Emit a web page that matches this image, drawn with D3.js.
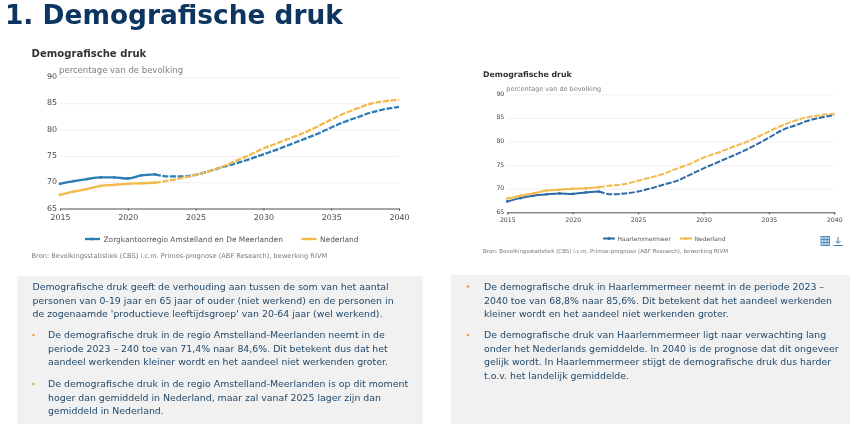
<!DOCTYPE html>
<html><head><meta charset="utf-8">
<script src="https://cdn.jsdelivr.net/npm/d3@7"></script>
<style>
html,body{margin:0;padding:0;background:#fff;overflow:hidden}
svg{display:block;font-family:"DejaVu Sans",sans-serif}
#blurred{filter:blur(0.35px)}
</style></head><body><svg id="c" width="850" height="424"></svg>
<script>
const years = d3.range(2015, 2041);
const yTicks = [65,70,75,80,85,90];
const xTicks = [2015,2020,2025,2030,2035,2040];
const lastObserved = 2022;
const regioLeft = [69.7,70.2,70.6,70.9,70.9,70.7,71.3,71.5,71.1,71.1,71.4,72.1,72.9,73.6,74.4,75.3,76.2,77.2,78.2,79.2,80.4,81.5,82.4,83.3,83.9,84.3];
const nederlandLeft = [67.6,68.2,68.7,69.3,69.5,69.7,69.8,69.9,70.3,70.8,71.4,72.1,73.0,74.1,75.2,76.4,77.4,78.4,79.4,80.6,81.9,83.1,84.1,85.0,85.4,85.7];
const regioRight = [67.3,68.0,68.5,68.8,69.0,68.9,69.2,69.4,68.8,69.0,69.4,70.1,70.9,71.7,73.0,74.3,75.5,76.7,77.9,79.3,80.8,82.4,83.4,84.4,85.1,85.6];
const nederlandRight = [67.9,68.5,69.0,69.6,69.8,70.0,70.1,70.3,70.7,71.0,71.7,72.4,73.2,74.3,75.3,76.6,77.5,78.6,79.6,80.8,82.1,83.4,84.4,85.2,85.6,85.9];
const pageTitle = "1. Demografische druk";
const chartTitle = "Demografische druk";
const subTitle = "percentage van de bevolking";
const sourceText = "Bron: Bevolkingsstatistiek (CBS) i.c.m. Primos-prognose (ABF Research), bewerking RIVM";
const leftIntro = ["Demografische druk geeft de verhouding aan tussen de som van het aantal","personen van 0-19 jaar en 65 jaar of ouder (niet werkend) en de personen in","de zogenaamde 'productieve leeftijdsgroep' van 20-64 jaar (wel werkend)."];
const leftBullets = [["De demografische druk in de regio Amstelland-Meerlanden neemt in de","periode 2023 – 240 toe van 71,4% naar 84,6%. Dit betekent dus dat het","aandeel werkenden kleiner wordt en het aandeel niet werkenden groter."],["De demografische druk in de regio Amstelland-Meerlanden is op dit moment","hoger dan gemiddeld in Nederland, maar zal vanaf 2025 lager zijn dan","gemiddeld in Nederland."]];
const rightBullets = [["De demografische druk in Haarlemmermeer neemt in de periode 2023 –","2040 toe van 68,8% naar 85,6%. Dit betekent dat het aandeel werkenden","kleiner wordt en het aandeel niet werkenden groter."],["De demografische druk van Haarlemmermeer ligt naar verwachting lang","onder het Nederlands gemiddelde. In 2040 is de prognose dat dit ongeveer","gelijk wordt. In Haarlemmermeer stijgt de demografische druk dus harder","t.o.v. het landelijk gemiddelde."]];

const BLUE="#2a7db5", BLUE2="#2f6aa8", ORANGE="#f3b94a", TEXT="#234a6b";
const svg=d3.select("#c").append("g").attr("id","blurred");

svg.append("text").text(pageTitle).attr("x",5).attr("y",23.5).attr("font-size",26.4).attr("font-weight",700).attr("fill","#0c3560");
svg.append("rect").attr("x",17).attr("y",276).attr("width",406).attr("height",148).attr("fill","#f1f1f1");
svg.append("rect").attr("x",451).attr("y",275).attr("width",399).attr("height",149).attr("fill","#f1f1f1");

function chart(o){
  const x=d3.scaleLinear().domain([2015,2040]).range(o.xr);
  const y=d3.scaleLinear().domain([65,90]).range(o.yr);
  const g=svg.append("g");
  g.append("text").text(chartTitle).attr("x",o.tx).attr("y",o.ty).attr("font-size",o.tfs).attr("font-weight",700).attr("fill","#333");
  g.append("text").text(subTitle).attr("x",o.xr[0]-1).attr("y",o.sy).attr("font-size",o.sfs).attr("fill","#808080");
  const gy=g.append("g").attr("transform",`translate(${o.xr[0]},0)`).call(d3.axisLeft(y).tickValues(yTicks).tickSize(-(o.xr[1]-o.xr[0])).tickPadding(3));
  gy.select(".domain").remove();
  gy.selectAll("line").attr("stroke","#f0f0f0");
  gy.selectAll("text").attr("font-size",o.afs).attr("fill","#444").attr("font-family","DejaVu Sans").attr("dy",o.ydy);
  const gx=g.append("g").attr("transform",`translate(0,${o.yr[0]})`).call(d3.axisBottom(x).tickValues(xTicks).tickSize(2).tickPadding(o.xpad).tickFormat(d3.format("d")));
  gx.select(".domain").attr("stroke","#555").attr("stroke-width",1);
  gx.selectAll("line").attr("stroke","#555");
  gx.selectAll("text").attr("font-size",o.afs).attr("fill","#444").attr("font-family","DejaVu Sans");
  const line=d3.line().x(d=>x(d.y)).y(d=>y(d.v)).curve(d3.curveMonotoneX);
  o.series.forEach(s=>{
    const pts=years.map((yr,i)=>({y:yr,v:s.values[i]}));
    g.append("path").attr("d",line(pts.filter(d=>d.y<=lastObserved))).attr("fill","none").attr("stroke",s.color).attr("stroke-width",o.sw);
    g.append("path").attr("d",line(pts.filter(d=>d.y>=lastObserved))).attr("fill","none").attr("stroke",s.color).attr("stroke-width",o.sw).attr("stroke-dasharray","6 1.6");
    g.selectAll(null).data(pts.filter(d=>d.y<=lastObserved)).join("circle").attr("cx",d=>x(d.y)).attr("cy",d=>y(d.v)).attr("r",1.4).attr("fill",s.color);
  });
  o.legend.forEach(l=>{
    g.append("line").attr("x1",l.x).attr("x2",l.x+o.ll).attr("y1",o.ly).attr("y2",o.ly).attr("stroke",l.color).attr("stroke-width",o.sw);
    g.append("circle").attr("cx",l.x+o.ll/2).attr("cy",o.ly).attr("r",1.5).attr("fill",l.color);
    g.append("text").text(l.name).attr("x",l.x+o.ll+o.lg).attr("y",o.ly+2.8).attr("font-size",o.lfs).attr("fill","#555");
  });
  g.append("text").text(sourceText).attr("x",o.tx).attr("y",o.srcY).attr("font-size",o.srcFs).attr("fill","#777");
}
chart({xr:[60,399],yr:[208.5,77],tx:31.5,ty:57,tfs:10.1,sy:73,sfs:8.5,afs:7.9,ydy:"0.2em",xpad:4,sw:2.3,ly:239,ll:15,lg:3.5,lfs:7.45,srcY:258,srcFs:6.65,
  series:[{values:regioLeft,color:BLUE},{values:nederlandLeft,color:ORANGE}],
  legend:[{x:85,name:"Zorgkantoorregio Amstelland en De Meerlanden",color:BLUE},{x:301.5,name:"Nederland",color:ORANGE}]});
chart({xr:[507.3,834.3],yr:[212.3,94.3],tx:483,ty:77,tfs:7.8,sy:91,sfs:6.5,afs:6.2,ydy:"0.15em",xpad:3.5,sw:2,ly:238.5,ll:12,lg:2.5,lfs:6,srcY:253,srcFs:5.5,
  series:[{values:regioRight,color:BLUE2},{values:nederlandRight,color:ORANGE}],
  legend:[{x:603,name:"Haarlemmermeer",color:BLUE2},{x:680,name:"Nederland",color:ORANGE}]});

// table and download icons
const ic=svg.append("g").attr("fill","none").attr("stroke","#4f8fc0");
ic.append("rect").attr("x",821).attr("y",236.5).attr("width",8.5).attr("height",9).attr("fill","#cfe2f0");
[239.5,242.5].forEach(v=>ic.append("line").attr("x1",821).attr("x2",829.5).attr("y1",v).attr("y2",v));
[824,827].forEach(v=>ic.append("line").attr("x1",v).attr("x2",v).attr("y1",236.5).attr("y2",245.5));
ic.append("path").attr("d","M838 237V243M835.5 241L838 243.5L840.5 241M833.5 245.5H842.5").attr("stroke","#3d7fb0");

function para(lines,x,y0){
  lines.forEach((t,i)=>svg.append("text").text(t).attr("x",x).attr("y",y0+i*13.6).attr("font-size",9.38).attr("fill",TEXT));
}
function bullet(x,y){svg.append("circle").attr("cx",x).attr("cy",y).attr("r",1.2).attr("fill","#ef9a3a");}
para(leftIntro,32.5,290);
para(leftBullets[0],48,338); bullet(33.5,335);
para(leftBullets[1],48,387); bullet(33.5,384);
para(rightBullets[0],484,290); bullet(468,286.5);
para(rightBullets[1],484,338); bullet(468,335);
</script></body></html>
